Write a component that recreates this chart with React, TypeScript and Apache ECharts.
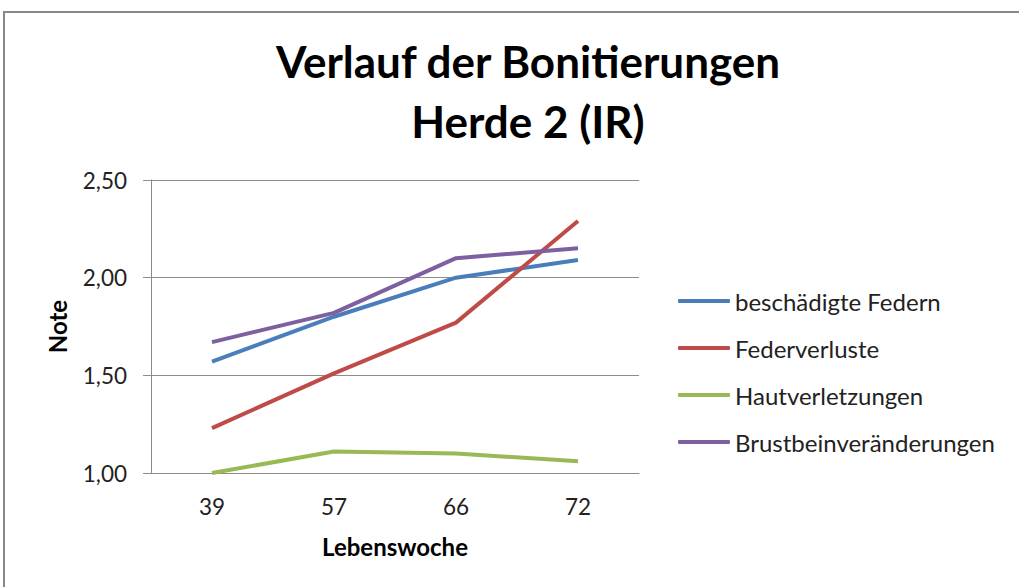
import React, { useEffect, useRef } from "react";
import * as echarts from "echarts";

const titleLines = ["Verlauf der Bonitierungen", "Herde 2 (IR)"];
const categories = ["39", "57", "66", "72"];
const seriesNames = ["beschädigte Federn", "Federverluste", "Hautverletzungen", "Brustbeinveränderungen"];
const beschaedigteFedern = [1.57, 1.8, 2.0, 2.09];
const federverluste = [1.23, 1.51, 1.77, 2.29];
const hautverletzungen = [1.0, 1.11, 1.1, 1.06];
const brustbein = [1.67, 1.82, 2.1, 2.15];
const colors = ["#4A7EBB", "#BE4B48", "#98B954", "#7D60A0"];
const yAxisName = "Note";
const xAxisName = "Lebenswoche";

const FONT = "Lato, 'Open Sans', sans-serif";

export default function App() {
  const ref = useRef<HTMLDivElement>(null);
  useEffect(() => {
    if (!ref.current) return;
    const chart = echarts.init(ref.current, undefined, { renderer: "svg" });
    const values = [beschaedigteFedern, federverluste, hautverletzungen, brustbein];
    chart.setOption({
      animation: false,
      backgroundColor: "#ffffff",
      graphic: [
        {
          type: "rect",
          shape: { x: 4, y: 12, width: 1100, height: 700 },
          style: { fill: "none", stroke: "#878787", lineWidth: 2 },
          silent: true,
        },
        {
          type: "text",
          x: 528,
          y: 61,
          style: {
            text: titleLines[0],
            textAlign: "center",
            textVerticalAlign: "middle",
            font: `bold 44px ${FONT}`,
            fill: "#000",
          },
        },
        {
          type: "text",
          x: 528,
          y: 121,
          style: {
            text: titleLines[1],
            textAlign: "center",
            textVerticalAlign: "middle",
            font: `bold 44px ${FONT}`,
            fill: "#000",
          },
        },
      ],
      grid: { left: 151, right: 380, top: 180, bottom: 114, containLabel: false },
      legend: {
        orient: "vertical",
        left: 673,
        top: 284,
        itemWidth: 52,
        itemHeight: 4,
        itemGap: 23,
        icon: "roundRect",
        data: seriesNames,
        textStyle: { fontFamily: FONT, fontSize: 24, color: "#222" },
      },
      xAxis: {
        type: "category",
        data: categories,
        boundaryGap: true,
        axisLine: { lineStyle: { color: "#8c8c8c", width: 1 } },
        axisTick: { show: false },
        axisLabel: { fontFamily: FONT, fontSize: 22.5, color: "#222", margin: 22 },
        name: xAxisName,
        nameLocation: "middle",
        nameGap: 61,
        nameTextStyle: { fontFamily: FONT, fontSize: 24, fontWeight: "bold", color: "#000" },
      },
      yAxis: {
        type: "value",
        min: 1,
        max: 2.5,
        interval: 0.5,
        axisLine: { show: true, lineStyle: { color: "#8c8c8c", width: 1 } },
        axisTick: { show: true, length: 8, lineStyle: { color: "#8c8c8c" } },
        splitLine: { show: true, lineStyle: { color: "#8c8c8c", width: 1 } },
        axisLabel: {
          fontFamily: FONT,
          fontSize: 22.5,
          color: "#222",
          margin: 24,
          formatter: (v: number) => v.toFixed(2).replace(".", ","),
        },
        name: yAxisName,
        nameLocation: "middle",
        nameRotate: 90,
        nameGap: 82,
        nameTextStyle: { fontFamily: FONT, fontSize: 24, fontWeight: "bold", color: "#000" },
      },
      series: seriesNames.map((name, i) => ({
        name,
        type: "line",
        data: values[i],
        showSymbol: false,
        symbol: "none",
        lineStyle: { color: colors[i], width: 4 },
        itemStyle: { color: colors[i] },
      })),
    });
    return () => chart.dispose();
  }, []);
  return (
    <div
      ref={ref}
      style={{ position: "fixed", left: 0, top: 0, width: 1019, height: 587, background: "#fff" }}
    />
  );
}
